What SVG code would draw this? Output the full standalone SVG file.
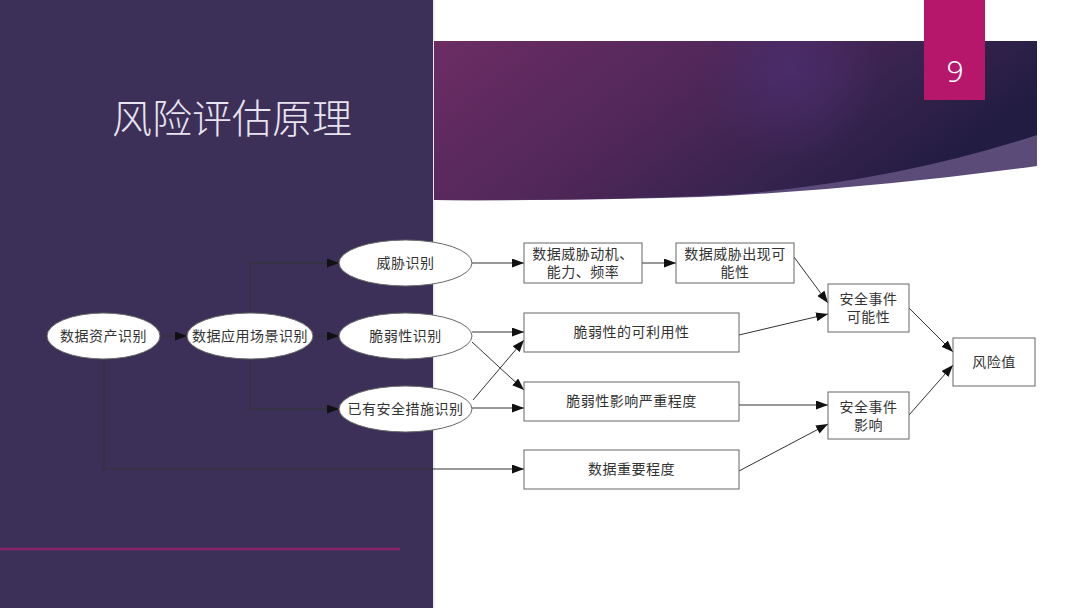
<svg xmlns="http://www.w3.org/2000/svg" width="1080" height="608" viewBox="0 0 1080 608">
<defs>
<linearGradient id="band" x1="0" y1="0" x2="1" y2="0.35">
<stop offset="0" stop-color="#6c2d64"/>
<stop offset="0.45" stop-color="#512759"/>
<stop offset="0.75" stop-color="#37234f"/>
<stop offset="1" stop-color="#221c42"/>
</linearGradient>
<radialGradient id="glow" cx="790" cy="70" r="90" gradientUnits="userSpaceOnUse">
<stop offset="0" stop-color="#4a2e6e" stop-opacity="0.8"/>
<stop offset="1" stop-color="#4a2e6e" stop-opacity="0"/>
</radialGradient>
<marker id="arr" viewBox="0 0 12 9" refX="12" refY="4.5" markerWidth="12" markerHeight="9" markerUnits="userSpaceOnUse" orient="auto">
<path d="M0,0 L12,4.5 L0,9 Z" fill="#111"/>
</marker>
</defs>
<style>
.node ellipse, .node rect { fill:#fff; stroke:#666; stroke-width:1; }
.lbl { font-family:"Liberation Sans","Noto Sans CJK SC",sans-serif; font-size:14px; letter-spacing:0.5px; fill:#333; text-anchor:middle; }
.conn path { fill:none; stroke:#333; stroke-width:1; marker-end:url(#arr); }
</style>
<rect x="0" y="0" width="1080" height="608" fill="#fff"/>
<rect x="0" y="0" width="433" height="608" fill="#3c3058"/>
<rect x="433" y="0" width="1.5" height="608" fill="#e9e6f0"/>
<path d="M434,41 H1037 V166 Q860,190 700,197 Q560,201 434,200 Z" fill="#5b4b79"/>
<path d="M434,41 H1037 V135 Q900,180 740,194 Q600,201 434,200 Z" fill="url(#band)"/>
<path d="M434,41 H1037 V135 Q900,180 740,194 Q600,201 434,200 Z" fill="url(#glow)"/>
<rect x="924" y="0" width="61" height="100" fill="#b7176b"/>
<text x="955" y="82" font-family="'Noto Sans','Liberation Sans',sans-serif" font-weight="300" font-size="30" fill="#fff" text-anchor="middle">9</text>
<text x="112" y="133" font-family="'Noto Sans CJK SC',sans-serif" font-weight="300" font-size="40" fill="#e8e4f0">风险评估原理</text>
<line x1="0" y1="549" x2="400" y2="549" stroke="#8c2469" stroke-width="2.5"/>

<g class="conn">
<path d="M160,336 H187"/>
<path d="M313,336 H339"/>
<path d="M250,313 V263 H339"/>
<path d="M250,359 V409 H339"/>
<path d="M104,359 V469 H524"/>
<path d="M472,263 H524"/>
<path d="M642,263 H676"/>
<path d="M794,257 L828,303"/>
<path d="M739,335 L828,314"/>
<path d="M472,332 H524"/>
<path d="M472,342 L524,390"/>
<path d="M473,400 L524,340"/>
<path d="M472,408 H524"/>
<path d="M739,405 H828"/>
<path d="M739,471 L828,424"/>
<path d="M909,308 L953,352"/>
<path d="M909,415 L953,365"/>
</g>

<g id="n-asset" class="node"><ellipse cx="103.5" cy="336" rx="56.5" ry="23"/><text class="lbl" x="103.5" y="341">数据资产识别</text></g>
<g id="n-scene" class="node"><ellipse cx="250" cy="336" rx="63" ry="23"/><text class="lbl" x="250" y="341">数据应用场景识别</text></g>
<g id="n-threat" class="node"><ellipse cx="405.5" cy="263" rx="66.5" ry="23"/><text class="lbl" x="405.5" y="268">威胁识别</text></g>
<g id="n-vuln" class="node"><ellipse cx="405.5" cy="336" rx="66.5" ry="23"/><text class="lbl" x="405.5" y="341">脆弱性识别</text></g>
<g id="n-measure" class="node"><ellipse cx="405.5" cy="409" rx="66.5" ry="23"/><text class="lbl" x="405.5" y="414">已有安全措施识别</text></g>

<g id="n-motive" class="node"><rect x="524" y="243" width="118" height="40"/><text class="lbl" x="583" y="259">数据威胁动机、</text><text class="lbl" x="583" y="277">能力、频率</text></g>
<g id="n-threatposs" class="node"><rect x="676" y="243" width="118" height="40"/><text class="lbl" x="735" y="259">数据威胁出现可</text><text class="lbl" x="735" y="277">能性</text></g>
<g id="n-exploit" class="node"><rect x="524" y="313" width="215" height="39"/><text class="lbl" x="631.5" y="337">脆弱性的可利用性</text></g>
<g id="n-severity" class="node"><rect x="524" y="382" width="215" height="39"/><text class="lbl" x="631.5" y="406">脆弱性影响严重程度</text></g>
<g id="n-importance" class="node"><rect x="524" y="450" width="215" height="39"/><text class="lbl" x="631.5" y="474">数据重要程度</text></g>
<g id="n-eventposs" class="node"><rect x="828" y="284" width="81" height="48"/><text class="lbl" x="868.5" y="304">安全事件</text><text class="lbl" x="868.5" y="322">可能性</text></g>
<g id="n-eventimpact" class="node"><rect x="828" y="392" width="81" height="47"/><text class="lbl" x="868.5" y="412">安全事件</text><text class="lbl" x="868.5" y="430">影响</text></g>
<g id="n-risk" class="node"><rect x="953" y="338" width="82" height="48"/><text class="lbl" x="994" y="367">风险值</text></g>
</svg>
